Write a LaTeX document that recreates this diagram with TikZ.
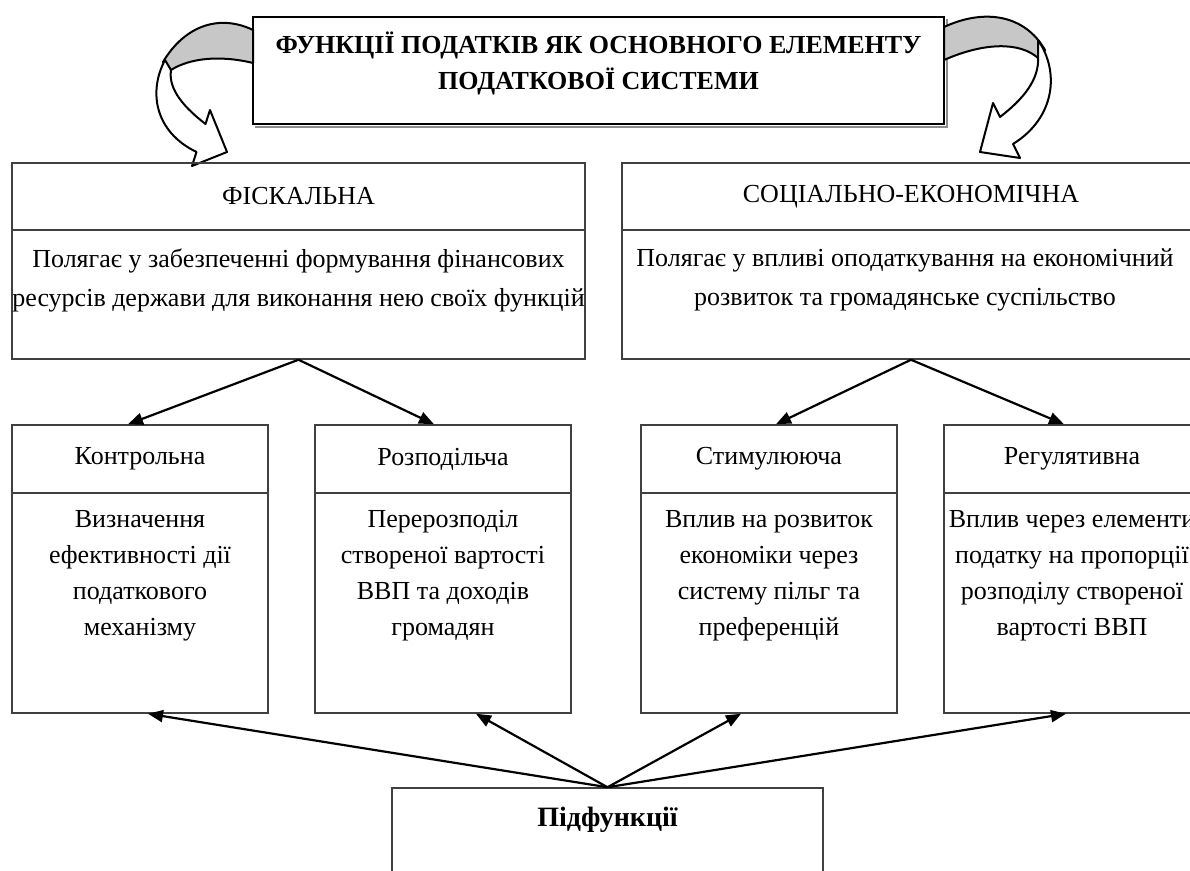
\documentclass[tikz,border=0pt]{standalone}
\usepackage{fontspec}
\setmainfont{Liberation Serif}
\usepackage{tikz}
\usetikzlibrary{arrows.meta}

\begin{document}
\begin{tikzpicture}[x=0.5pt,y=0.5pt,yscale=-1,xscale=1,
  box/.style={draw=black!75, line width=0.75pt, inner sep=0pt},
  hdr/.style={box, font=\fontsize{13}{18}\selectfont, minimum height=34pt},
  txt/.style={anchor=north, inner sep=0pt, align=center, font=\fontsize{13}{18}\selectfont},
  arr/.style={line width=1.1pt, -{Triangle[length=7.5pt,width=6pt]}},
  band/.style={line width=1pt, line join=round}]
\useasboundingbox (0,0) rectangle (1190,871);
\fill [white] (0,0) rectangle (1190,871);

%Shape: Rectangle (title)
\node [box, draw=black, line width=1pt, minimum width=345.5pt, minimum height=53.5pt] (title) at (598.5,70.5) {};
\draw [black!45, line width=1.2pt] ([shift={(3,2)}]title.south west) -- ([shift={(2,2)}]title.south east) -- ([shift={(2,3)}]title.north east);
% Text Node
\node [txt, font=\fontsize{13}{18}\selectfont\bfseries] (titleT) at (598.5,31) {ФУНКЦІЇ ПОДАТКІВ ЯК ОСНОВНОГО ЕЛЕМЕНТУ\\ПОДАТКОВОЇ СИСТЕМИ};

%Shape: Curved Arrow (left)
\draw [band, fill=black!22] (253,30) .. controls (220,14) and (185,25) .. (163,62) -- (171,70) .. controls (190,58) and (220,55) .. (253,63) -- cycle ;
\draw [band, fill=white] (165,60) .. controls (148,92) and (155,132) .. (196.5,152) -- (192,166) -- (227,152) -- (210,110) -- (205.5,124) .. controls (185,108) and (168,90) .. (171,70) -- cycle ;
%Shape: Curved Arrow (right)
\draw [band, fill=black!22] (944,27) .. controls (985,8) and (1025,15) .. (1045,50) -- (1038,58) .. controls (1020,42) and (985,42) .. (944,60) -- cycle ;
\draw [band, fill=white] (1038,40) .. controls (1060,72) and (1055,118) .. (1013,144) -- (1020,158) -- (980,152) -- (993,103) -- (1000,117) .. controls (1022,100) and (1040,80) .. (1038,56) -- cycle ;

%Shape: Fiscal
\node [hdr, minimum width=286.5pt, minimum height=33.5pt] (fiscH) at (298.5,196.5) {ФІСКАЛЬНА};
\node [box, minimum width=286.5pt, minimum height=64.5pt] (fiscB) at (298.5,294.5) {};
% Text Node
\node [txt, font=\fontsize{13}{19.5}\selectfont] (fiscT) at (298.5,248) {Полягає у забезпеченні формування фінансових\\ресурсів держави для виконання нею своїх функцій};

%Shape: Social-economic
\node [hdr, minimum width=289pt, minimum height=33.5pt] (socH) at (911,196.5) {СОЦІАЛЬНО-ЕКОНОМІЧНА};
\node [box, minimum width=289pt, minimum height=64.5pt] (socB) at (911,294.5) {};
% Text Node
\node [txt, font=\fontsize{13}{19.5}\selectfont] (socT) at (905,248) {Полягає у впливі оподаткування на економічний\\розвиток та громадянське суспільство};

%Shape: Sub-functions
\node [hdr, minimum width=128pt] (kontrH) at (140,459) {Контрольна};
\node [box, minimum width=128pt, minimum height=110pt] (kontrB) at (140,603) {};
\node [hdr, minimum width=128pt] (rozpH) at (443,459) {Розподільча};
\node [box, minimum width=128pt, minimum height=110pt] (rozpB) at (443,603) {};
\node [hdr, minimum width=128pt] (stimH) at (769,459) {Стимулююча};
\node [box, minimum width=128pt, minimum height=110pt] (stimB) at (769,603) {};
\node [hdr, minimum width=128pt] (regH) at (1072,459) {Регулятивна};
\node [box, minimum width=128pt, minimum height=110pt] (regB) at (1072,603) {};
% Text Node
\node [txt] (kontrT) at (140,510) {Визначення\\ефективності дії\\податкового\\механізму};
% Text Node
\node [txt] (rozpT) at (443,510) {Перерозподіл\\створеної вартості\\ВВП та доходів\\громадян};
% Text Node
\node [txt] (stimT) at (769,510) {Вплив на розвиток\\економіки через\\систему пільг та\\преференцій};
% Text Node
\node [txt] (regT) at (1072,510) {Вплив через елементи\\податку на пропорції\\розподілу створеної\\вартості ВВП};

%Shape: Pidfunktsii
\node [box, minimum width=215.5pt, minimum height=56pt] (pidf) at (607.5,844) {};
% Text Node
\node [inner sep=0pt, font=\fontsize{14}{18}\selectfont\bfseries] (pidfT) at (607.5,820) {Підфункції};

%Straight Lines
\draw [arr] (fiscB.south) -- ([xshift=-6pt]kontrH.north);
\draw [arr] (fiscB.south) -- ([xshift=-4.5pt]rozpH.north);
\draw [arr] (socB.south) -- ([xshift=3.5pt]stimH.north);
\draw [arr] (socB.south) -- ([xshift=-4pt]regH.north);
\draw [arr] (pidf.north) -- ([xshift=4pt]kontrB.south);
\draw [arr] (pidf.north) -- ([xshift=16.5pt]rozpB.south);
\draw [arr] (pidf.north) -- ([xshift=-14pt]stimB.south);
\draw [arr] (pidf.north) -- ([xshift=-3pt]regB.south);

\end{tikzpicture}
\end{document}
